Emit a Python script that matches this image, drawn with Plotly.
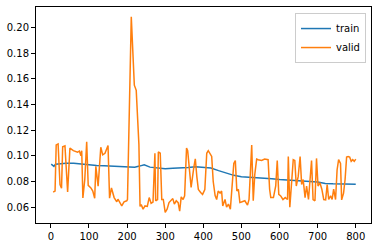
import plotly.graph_objects as go

train_x = [1, 5, 8, 12, 20, 40, 60, 80, 100, 120, 140, 160, 180, 200, 220, 235, 245, 260, 280,
           290, 300, 320, 340, 360, 380, 400, 420, 440, 460, 480, 500, 520, 540, 560, 580, 600,
           620, 640, 660, 680, 700, 710, 720, 740, 760, 780, 800]
train_y = [0.0935, 0.0925, 0.0918, 0.0935, 0.0938, 0.0942, 0.0942, 0.0935, 0.0928, 0.0925,
           0.0923, 0.0920, 0.0918, 0.0913, 0.0912, 0.0922, 0.0931, 0.0912, 0.0905, 0.0900,
           0.0900, 0.0903, 0.0905, 0.0910, 0.0915, 0.0912, 0.0905, 0.0885, 0.0865, 0.0848,
           0.0838, 0.0835, 0.0832, 0.0828, 0.0822, 0.0815, 0.0810, 0.0806, 0.0802, 0.0800,
           0.0797, 0.0790, 0.0785, 0.0782, 0.0780, 0.0778, 0.0778]

valid_x = [6, 11, 14, 19, 24, 28, 31, 37, 44, 50, 59, 70, 75, 79, 81, 84, 89, 94, 98, 105,
           110, 115, 118, 124, 131, 136, 142, 150, 154, 159, 166, 173, 176, 181, 186, 192, 199,
           201, 211, 219, 224, 231, 234, 237, 242, 247, 253, 258, 263, 268, 273, 275, 280, 282,
           287, 291, 295, 300, 305, 310, 315, 320, 324, 329, 334, 338, 342, 347, 351, 356, 359,
           362, 368, 375, 379, 383, 387, 393, 398, 404, 409, 413, 418, 422, 426, 431, 435, 439,
           444, 448, 451, 457, 461, 466, 471, 476, 480, 484, 488, 492, 496, 500, 509, 516, 520,
           527, 531, 535, 540, 544, 553, 561, 570, 574, 577, 584, 590, 594, 598, 603, 609, 615,
           621, 623, 627, 631, 636, 640, 644, 649, 654, 658, 662, 667, 671, 676, 680, 684, 688,
           693, 697, 701, 706, 711, 716, 721, 725, 729, 734, 738, 742, 747, 751, 755, 760, 763,
           768, 772, 776, 780, 784, 788, 792, 796, 800]
valid_y = [0.0718, 0.0726, 0.1085, 0.1092, 0.0777, 0.0747, 0.1070, 0.1077, 0.0718, 0.1060,
           0.1040, 0.1028, 0.1036, 0.1000, 0.1040, 0.0672, 0.0816, 0.1110, 0.0770, 0.0750,
           0.0726, 0.0670, 0.0918, 0.0764, 0.1067, 0.1008, 0.1020, 0.1080, 0.0670, 0.0750,
           0.0675, 0.0642, 0.0662, 0.0636, 0.0610, 0.0642, 0.0650,
           0.0660, 0.2082, 0.1550, 0.1510, 0.1090, 0.0606, 0.0620, 0.0585, 0.0610, 0.0606,
           0.0675, 0.0630, 0.0640, 0.1020, 0.0650, 0.0660, 0.1030,
           0.1020, 0.0660, 0.0660, 0.0560, 0.0585, 0.0636, 0.0650, 0.0667, 0.0624, 0.0650,
           0.0636, 0.0570, 0.0680, 0.0660, 0.0688, 0.1060, 0.1040,
           0.0918, 0.0754, 0.0908, 0.0977, 0.0838, 0.0738, 0.0715, 0.0700, 0.0738, 0.1020,
           0.1040, 0.1020, 0.0995, 0.0800, 0.0690, 0.0660, 0.0726,
           0.0710, 0.0726, 0.0610, 0.0660, 0.0600, 0.0624, 0.0585, 0.0765, 0.0940, 0.0964,
           0.0726, 0.0740, 0.0636, 0.0640, 0.0650, 0.0616, 0.0660,
           0.1085, 0.0650, 0.0854, 0.0975, 0.0970, 0.0964, 0.0975, 0.0970, 0.0740, 0.0675,
           0.0675, 0.0765, 0.0964, 0.0700, 0.0688, 0.0660, 0.0675,
           0.0660, 0.0995, 0.0600, 0.0765, 0.0970, 0.0964, 0.0765, 0.0840, 0.0995, 0.0777,
           0.0816, 0.0675, 0.0765, 0.0660, 0.0800, 0.0964, 0.0660,
           0.0650, 0.0980, 0.0765, 0.0790, 0.0740, 0.0660, 0.0657, 0.0777, 0.0660, 0.0688,
           0.0660, 0.0740, 0.0660, 0.0890, 0.0970, 0.0940, 0.0657,
           0.0710, 0.0816, 0.0990, 0.0995, 0.0990, 0.0957, 0.0970, 0.0957, 0.0975]

x_ticks = [0, 100, 200, 300, 400, 500, 600, 700, 800]
y_ticks = [0.06, 0.08, 0.10, 0.12, 0.14, 0.16, 0.18, 0.20]

fig = go.Figure()
fig.add_trace(go.Scatter(x=train_x, y=train_y, mode="lines", name="train",
                         line=dict(color="#1f77b4", width=1.5)))
fig.add_trace(go.Scatter(x=valid_x, y=valid_y, mode="lines", name="valid",
                         line=dict(color="#ff7f0e", width=1.5)))

axis_common = dict(showgrid=False, zeroline=False, showline=True, linecolor="black",
                   linewidth=1, mirror=True, ticks="outside", ticklen=4, tickwidth=1,
                   tickcolor="black", tickfont=dict(family="DejaVu Sans", size=10, color="black"))
fig.update_xaxes(range=[-39, 840], tickvals=x_ticks, ticktext=[str(v) for v in x_ticks],
                 **axis_common)
fig.update_yaxes(range=[0.0477, 0.2159], tickvals=y_ticks,
                 ticktext=["%.2f" % v for v in y_ticks], **axis_common)

fig.update_layout(
    width=378, height=248,
    margin=dict(l=36, r=7, t=6, b=24),
    plot_bgcolor="white", paper_bgcolor="white",
    font=dict(family="DejaVu Sans", size=10, color="black"),
    legend=dict(x=0.985, y=0.972, xanchor="right", yanchor="top",
                bgcolor="rgba(255,255,255,0.8)", bordercolor="#cccccc", borderwidth=1,
                font=dict(size=10), itemwidth=30),
    showlegend=True,
)

fig.write_html("out.html", config={"displayModeBar": False})
